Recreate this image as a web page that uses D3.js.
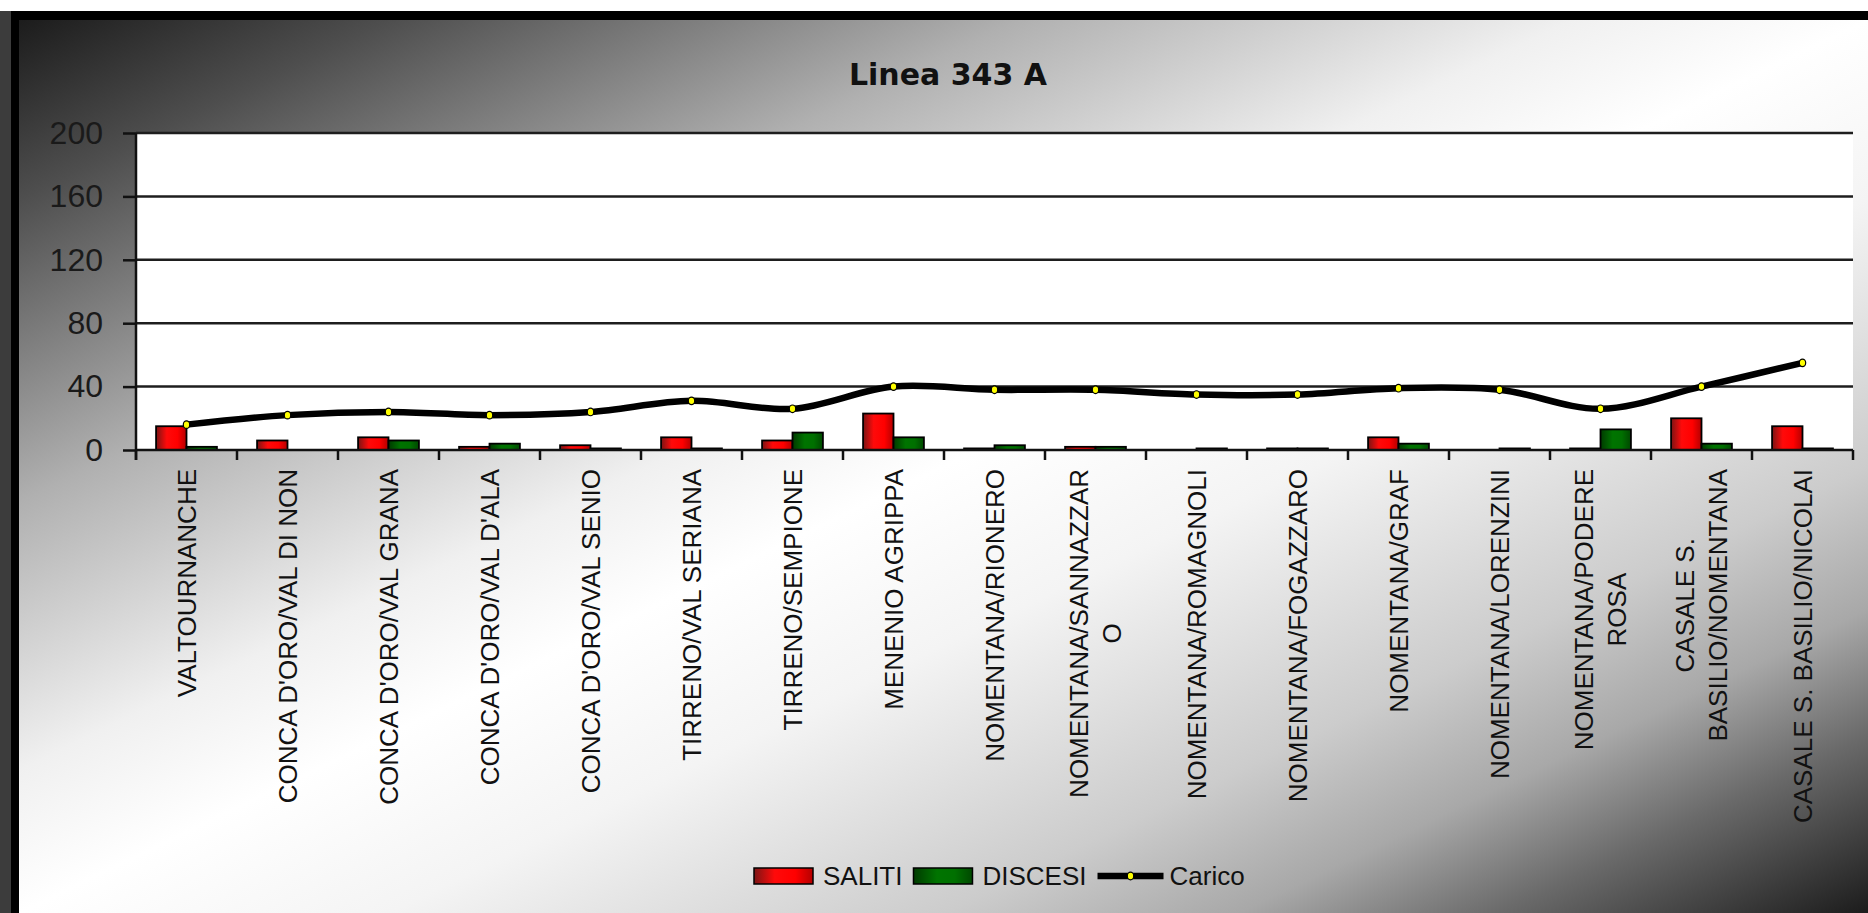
<!DOCTYPE html>
<html>
<head>
<meta charset="utf-8">
<script src="https://cdn.jsdelivr.net/npm/d3@7/dist/d3.min.js"></script>
<style>
  html, body { margin: 0; padding: 0; background: #ffffff; }
  svg { display: block; }
</style>
</head>
<body>
<svg id="chart" width="1868" height="913"></svg>
<script>
const title = "Linea 343 A";
const categories = [
  "VALTOURNANCHE",
  "CONCA D'ORO/VAL DI NON",
  "CONCA D'ORO/VAL GRANA",
  "CONCA D'ORO/VAL D'ALA",
  "CONCA D'ORO/VAL SENIO",
  "TIRRENO/VAL SERIANA",
  "TIRRENO/SEMPIONE",
  "MENENIO AGRIPPA",
  "NOMENTANA/RIONERO",
  "NOMENTANA/SANNAZZAR\nO",
  "NOMENTANA/ROMAGNOLI",
  "NOMENTANA/FOGAZZARO",
  "NOMENTANA/GRAF",
  "NOMENTANA/LORENZINI",
  "NOMENTANA/PODERE\nROSA",
  "CASALE S.\nBASILIO/NOMENTANA",
  "CASALE S. BASILIO/NICOLAI"
];
const saliti  = [15, 6, 8, 2, 3, 8, 6, 23, 1, 2, 0, 1, 8, 0, 1, 20, 15];
const discesi = [2, 0, 6, 4, 1, 1, 11, 8, 3, 2, 1, 1, 4, 1, 13, 4, 1];
const carico  = [16, 22, 24, 22, 24, 31, 26, 40, 38, 38, 35, 35, 39, 38, 26, 40, 55];
const yTicks = [0, 40, 80, 120, 160, 200];
const seriesNames = ["SALITI", "DISCESI", "Carico"];

const W = 1868, H = 913;
const svg = d3.select("#chart");
const defs = svg.append("defs");

// background gradient
const bg = defs.append("linearGradient").attr("id", "bgGrad")
  .attr("x1", 0).attr("y1", 0).attr("x2", 1).attr("y2", 1);
[[0, "#1c1c1c"], [0.1, "#4e4e4e"], [0.27, "#b0b0b0"], [0.42, "#f0f0f0"], [0.5, "#ffffff"],
 [0.6, "#f4f4f4"], [0.75, "#cccccc"], [0.83, "#a8a8a8"], [0.9, "#6a6a6a"], [1, "#1c1c1c"]]
  .forEach(([o, c]) => bg.append("stop").attr("offset", o).attr("stop-color", c));

const redG = defs.append("linearGradient").attr("id", "redGrad").attr("x1", 0).attr("x2", 1).attr("y1", 0).attr("y2", 0);
[[0, "#7a1414"], [0.35, "#ff0a0a"], [0.7, "#ff0000"], [1, "#b40000"]]
  .forEach(([o, c]) => redG.append("stop").attr("offset", o).attr("stop-color", c));
const greenG = defs.append("linearGradient").attr("id", "greenGrad").attr("x1", 0).attr("x2", 1).attr("y1", 0).attr("y2", 0);
[[0, "#003a00"], [0.4, "#007400"], [0.7, "#007000"], [1, "#004800"]]
  .forEach(([o, c]) => greenG.append("stop").attr("offset", o).attr("stop-color", c));

// frame
svg.append("rect").attr("x", 0).attr("y", 0).attr("width", W).attr("height", H).attr("fill", "#ffffff");
svg.append("rect").attr("x", 0).attr("y", 11).attr("width", 11).attr("height", H - 11).attr("fill", "#3c3c3c");
svg.append("rect").attr("x", 11).attr("y", 11).attr("width", W - 11).attr("height", H - 11).attr("fill", "#000000");
svg.append("rect").attr("x", 19).attr("y", 20).attr("width", W - 19).attr("height", H - 20).attr("fill", "url(#bgGrad)");

// title
svg.append("text").attr("x", 948).attr("y", 85)
  .attr("text-anchor", "middle")
  .attr("font-family", "'DejaVu Sans', sans-serif").attr("font-weight", "bold")
  .attr("font-size", 30).attr("fill", "#111").text(title);

const plot = { left: 136, right: 1853, top: 133, bottom: 450 };
const x0 = d3.scaleBand().domain(d3.range(categories.length)).range([plot.left, plot.right]).paddingInner(0).paddingOuter(0);
const x1 = d3.scaleBand().domain([0, 1]).range([0, x0.bandwidth()]).paddingInner(0).paddingOuter(0.66);
const y = d3.scaleLinear().domain([0, 200]).range([plot.bottom, plot.top]);

// plot area
svg.append("rect").attr("x", plot.left).attr("y", plot.top)
  .attr("width", plot.right - plot.left).attr("height", plot.bottom - plot.top).attr("fill", "#ffffff");

// gridlines
svg.append("g").selectAll("line").data(yTicks.filter(d => d > 0)).join("line")
  .attr("x1", plot.left).attr("x2", plot.right)
  .attr("y1", d => y(d)).attr("y2", d => y(d))
  .attr("stroke", "#1e1e1e").attr("stroke-width", 2.5);

// y axis
const yAxis = d3.axisLeft(y).tickValues(yTicks).tickSize(13).tickPadding(20).tickFormat(d3.format("d"));
const gy = svg.append("g").attr("transform", `translate(${plot.left},0)`).call(yAxis);
gy.select(".domain").remove();
gy.selectAll(".tick line").attr("stroke", "#111").attr("stroke-width", 2.5);
gy.selectAll(".tick text").attr("font-family", "'Liberation Sans', Arial, sans-serif")
  .attr("font-size", 32).attr("fill", "#1a1a1a");
svg.append("line").attr("x1", plot.left).attr("x2", plot.left).attr("y1", plot.top).attr("y2", plot.bottom + 10)
  .attr("stroke", "#111").attr("stroke-width", 2.5);

// bars
const barData = categories.map((c, i) => [
  { i, s: 0, v: saliti[i] },
  { i, s: 1, v: discesi[i] }
]).flat().filter(d => d.v > 0);
svg.append("g").selectAll("rect").data(barData).join("rect")
  .attr("x", d => x0(d.i) + x1(d.s))
  .attr("width", x1.bandwidth())
  .attr("y", d => y(d.v))
  .attr("height", d => y(0) - y(d.v))
  .attr("fill", d => d.s === 0 ? "url(#redGrad)" : "url(#greenGrad)")
  .attr("stroke", "#000").attr("stroke-width", 1.8);

// x axis
const tickPos = d3.range(categories.length + 1).map(k => plot.left + k * x0.step());
svg.append("line").attr("x1", plot.left).attr("x2", plot.right).attr("y1", plot.bottom).attr("y2", plot.bottom)
  .attr("stroke", "#111").attr("stroke-width", 2.5);
svg.append("g").selectAll("line").data(tickPos).join("line")
  .attr("x1", d => d).attr("x2", d => d).attr("y1", plot.bottom).attr("y2", plot.bottom + 10)
  .attr("stroke", "#111").attr("stroke-width", 2.5);

// x labels
const labelTop = 469, lineH = 33;
const xl = svg.append("g").attr("font-family", "'Liberation Sans', Arial, sans-serif")
  .attr("font-size", 26).attr("fill", "#111");
categories.forEach((c, i) => {
  const lines = c.split("\n");
  const cx = x0(i) + x0.bandwidth() / 2;
  const g = xl.append("g").attr("transform", `translate(${cx},${labelTop}) rotate(-90)`);
  const texts = lines.map((ln, j) => g.append("text")
    .attr("y", (j - (lines.length - 1) / 2) * lineH)
    .attr("dominant-baseline", "central")
    .text(ln));
  if (lines.length === 1) {
    texts[0].attr("text-anchor", "end").attr("x", 0);
  } else {
    const maxLen = d3.max(texts, t => t.node().getComputedTextLength());
    texts.forEach(t => t.attr("text-anchor", "middle").attr("x", -maxLen / 2));
  }
});

// carico line
const line = d3.line()
  .x((d, i) => x0(i) + x0.bandwidth() / 2)
  .y(d => y(d))
  .curve(d3.curveCatmullRom.alpha(0.5));
svg.append("path").datum(carico).attr("d", line)
  .attr("fill", "none").attr("stroke", "#000").attr("stroke-width", 6.5).attr("stroke-linejoin", "round");
svg.append("g").selectAll("ellipse").data(carico).join("ellipse")
  .attr("cx", (d, i) => x0(i) + x0.bandwidth() / 2)
  .attr("cy", d => y(d))
  .attr("rx", 3.2).attr("ry", 3.8)
  .attr("fill", "#ffff00").attr("stroke", "#000").attr("stroke-width", 1.2);

// legend
const lg = svg.append("g").attr("font-family", "'Liberation Sans', Arial, sans-serif")
  .attr("font-size", 26).attr("fill", "#111");
const ly = 876;
let lx = 754;
[["url(#redGrad)", seriesNames[0]], ["url(#greenGrad)", seriesNames[1]]].forEach(([f, name]) => {
  lg.append("rect").attr("x", lx).attr("y", ly - 8).attr("width", 59).attr("height", 16)
    .attr("fill", f).attr("stroke", "#000").attr("stroke-width", 1.5);
  lx += 59 + 10;
  const t = lg.append("text").attr("x", lx).attr("y", ly).attr("dominant-baseline", "central").text(name);
  lx += t.node().getComputedTextLength() + 11;
});
lg.append("line").attr("x1", lx).attr("x2", lx + 66).attr("y1", ly).attr("y2", ly)
  .attr("stroke", "#000").attr("stroke-width", 6.5);
lg.append("ellipse").attr("cx", lx + 33).attr("cy", ly).attr("rx", 3.2).attr("ry", 3.8)
  .attr("fill", "#ffff00").attr("stroke", "#000").attr("stroke-width", 1.2);
lx += 66 + 6;
lg.append("text").attr("x", lx).attr("y", ly).attr("dominant-baseline", "central").text(seriesNames[2]);
</script>
</body>
</html>
